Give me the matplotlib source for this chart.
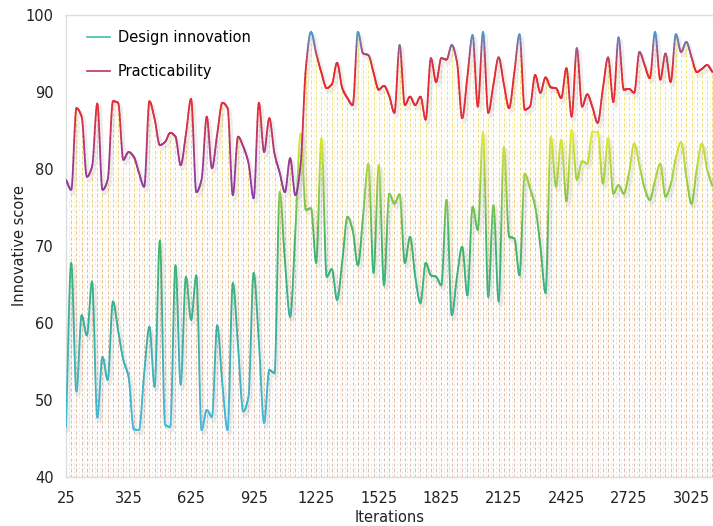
import numpy as np
import matplotlib
matplotlib.use("Agg")
import matplotlib.pyplot as plt
import matplotlib.patheffects as pe
from matplotlib.collections import LineCollection
from matplotlib.colors import LinearSegmentedColormap, Normalize
from matplotlib.lines import Line2D

# iteration index (one sample every 25 iterations)
iterations = np.arange(25, 3126, 25)

design_innovation = [
    46.5, 67.8, 51.1, 61.0, 58.4, 65.4, 47.7, 55.6, 52.6, 62.8,
    59.0, 55.2, 53.0, 46.2, 46.1, 53.5, 59.5, 51.7, 70.7, 46.8,
    46.5, 67.5, 52.0, 66.0, 60.4, 66.2, 46.1, 48.7, 47.8, 59.7,
    52.0, 46.1, 65.2, 57.0, 48.5, 50.4, 66.5, 57.5, 47.0, 53.9,
    53.5, 77.0, 68.0, 60.8, 72.0, 84.6, 74.7, 74.9, 67.8, 84.0,
    66.0, 67.0, 63.0, 68.0, 73.8, 72.0, 67.5, 74.0, 80.7, 66.5,
    80.5, 64.9, 76.8, 75.5, 76.7, 67.8, 71.2, 66.0, 62.6, 67.8,
    66.2, 66.0, 64.9, 76.0, 61.0, 66.0, 69.9, 63.6, 75.1, 72.1,
    84.8, 63.4, 75.3, 62.8, 82.9, 71.2, 71.0, 66.2, 79.4, 77.5,
    75.1, 70.0, 63.9, 84.2, 77.7, 83.8, 75.8, 85.1, 78.6, 81.0,
    80.7, 84.8, 84.8, 78.1, 84.0, 76.8, 77.9, 76.8, 79.5, 83.3,
    80.5, 77.5, 76.0, 78.5, 80.7, 76.4, 78.0, 81.5, 83.5, 79.0,
    75.5, 80.0, 83.3, 79.9, 77.8,
]

practicability = [
    78.6, 77.3, 87.9, 86.8, 79.0, 80.3, 88.5, 77.3, 78.6, 88.8,
    88.6, 81.2, 82.2, 81.6, 79.5, 77.7, 88.8, 86.5, 83.1, 83.5,
    84.7, 84.2, 80.5, 84.5, 89.1, 77.0, 78.6, 86.8, 80.1, 84.5,
    88.6, 87.9, 76.6, 84.2, 82.9, 80.8, 76.2, 88.6, 82.2, 86.6,
    82.0, 79.5, 77.0, 81.4, 76.6, 80.5, 93.0, 97.8, 95.0, 92.5,
    90.5, 91.0, 93.8, 90.5, 89.2, 88.3, 97.8, 95.0, 94.8, 92.5,
    90.3, 90.8, 89.5, 87.3, 96.1, 88.3, 89.4, 88.3, 89.4, 86.4,
    94.4, 91.3, 94.4, 94.2, 96.1, 93.9, 86.6, 92.0, 97.4, 88.1,
    97.8, 87.3, 91.0, 94.5, 91.0, 87.9, 92.5, 97.5, 87.7, 88.1,
    92.2, 89.9, 91.9, 90.6, 90.5, 89.2, 93.1, 86.8, 95.7, 88.1,
    89.7, 88.0, 86.0, 90.5, 94.5, 88.7, 97.1, 90.3, 90.4, 89.9,
    95.2, 93.5, 91.8, 97.8, 91.6, 95.0, 91.3, 97.5, 95.2, 96.5,
    94.5, 92.6, 93.0, 93.5, 92.6,
]

x_ticks = [25, 325, 625, 925, 1225, 1525, 1825, 2125, 2425, 2725, 3025]
y_ticks = [40, 50, 60, 70, 80, 90, 100]

Y_MIN, Y_MAX = 40, 100
TEXT = "#222222"

# colour ramps keyed on the score value
design_cmap = LinearSegmentedColormap.from_list(
    "design", [(0.0, "#46b9dc"), (0.35, "#3aae9e"), (0.62, "#3fb466"),
               (0.82, "#96cc44"), (1.0, "#e4ec2c")])
design_norm = Normalize(46, 85)

prac_cmap = LinearSegmentedColormap.from_list(
    "prac", [(0.0, "#8a3fa8"), (0.27, "#a8388a"), (0.5, "#e0303e"),
             (0.77, "#e8282a"), (0.89, "#9a5a8c"), (1.0, "#3aa8d8")])
prac_norm = Normalize(76, 98)

drop_cmap = LinearSegmentedColormap.from_list(
    "drop", [(0.0, "#c9a79a"), (0.3, "#d99e74"), (0.55, "#e2aa52"),
             (0.78, "#e8c844"), (1.0, "#ece43a")])
drop_norm = Normalize(40, 94)


def pchip(x, y, n=14):
    x = np.asarray(x, float)
    y = np.asarray(y, float)
    h = np.diff(x)
    delta = np.diff(y) / h
    d = np.zeros_like(y)
    for k in range(1, len(y) - 1):
        if delta[k - 1] * delta[k] > 0:
            w1 = 2 * h[k] + h[k - 1]
            w2 = h[k] + 2 * h[k - 1]
            d[k] = (w1 + w2) / (w1 / delta[k - 1] + w2 / delta[k])
    d[0] = delta[0]
    d[-1] = delta[-1]
    t = np.linspace(0, 1, n, endpoint=False)
    h00 = 2 * t**3 - 3 * t**2 + 1
    h10 = t**3 - 2 * t**2 + t
    h01 = -2 * t**3 + 3 * t**2
    h11 = t**3 - t**2
    xs, ys = [], []
    for k in range(len(x) - 1):
        xs.append(x[k] + t * h[k])
        ys.append(h00 * y[k] + h10 * h[k] * d[k] + h01 * y[k + 1] + h11 * h[k] * d[k + 1])
    xs.append([x[-1]])
    ys.append([y[-1]])
    return np.concatenate(xs), np.concatenate(ys)


def gradient_line(ax, x, y, cmap, norm, lw=1.3):
    xs, ys = pchip(x, y)
    # soft drop shadow under the curve
    ax.plot(xs, ys, lw=lw + 1.5, color="k", zorder=3,
            path_effects=[pe.SimpleLineShadow(offset=(1.5, -2.5), shadow_color="#707070", alpha=0.12)])
    pts = np.column_stack([xs, ys]).reshape(-1, 1, 2)
    segs = np.concatenate([pts[:-1], pts[1:]], axis=1)
    colors = cmap(norm((ys[:-1] + ys[1:]) / 2))
    lc = LineCollection(segs, colors=colors, linewidths=lw, zorder=4, capstyle="round")
    ax.add_collection(lc)


def drop_lines(ax, x, tops, dash, gap, lw, alpha, z):
    segs, vals = [], []
    for xi, top in zip(x, tops):
        for s in np.arange(Y_MIN, top, dash + gap):
            segs.append([(xi, s), (xi, min(s + dash, top))])
            vals.append(s)
    lc = LineCollection(segs, colors=drop_cmap(drop_norm(np.array(vals))),
                        linewidths=lw, alpha=alpha, zorder=z)
    ax.add_collection(lc)


fig = plt.figure(figsize=(7.13, 5.26), dpi=100)
ax = fig.add_axes([66 / 713, 49 / 526, 647 / 713, 462 / 526])

# vertical drop lines from the floor up to the practicability curve
prac = np.array(practicability)
drop_lines(ax, iterations, prac - 0.4, dash=0.42, gap=0.28, lw=0.75, alpha=0.7, z=1)
mid_x = (iterations[:-1] + iterations[1:]) / 2
mid_top = (prac[:-1] + prac[1:]) / 2 - 0.8
drop_lines(ax, mid_x, mid_top, dash=0.2, gap=0.34, lw=0.7, alpha=0.35, z=1)

gradient_line(ax, iterations, design_innovation, design_cmap, design_norm)
gradient_line(ax, iterations, practicability, prac_cmap, prac_norm)

ax.set_xlim(25, 3128)
ax.set_ylim(Y_MIN, Y_MAX)
ax.set_xticks(x_ticks)
ax.set_yticks(y_ticks)
ax.tick_params(length=0, labelsize=10.5, colors=TEXT, pad=10)
ax.tick_params(axis="y", pad=9)
for side in ["top", "left", "bottom"]:
    ax.spines[side].set_color("#dedede")
    ax.spines[side].set_linewidth(1.0)
ax.spines["right"].set_visible(False)

ax.set_xlabel("Iterations", fontsize=10.5, color=TEXT, va="center")
ax.xaxis.set_label_coords(0.5, (477 - 517) / 462)
ax.set_ylabel("Innovative score", fontsize=10.5, color=TEXT, va="center")
ax.yaxis.set_label_coords((20 - 66) / 647, 0.5)

handles = [Line2D([], [], color="#3dbfae", lw=1.2),
           Line2D([], [], color="#c0306a", lw=1.2)]
ax.legend(handles, ["Design innovation", "Practicability"], loc="upper left",
          bbox_to_anchor=(0.012, 0.995), frameon=False, fontsize=10.5,
          handlelength=1.6, handletextpad=0.5, labelspacing=1.3)

fig.savefig("out.png", dpi=100)
